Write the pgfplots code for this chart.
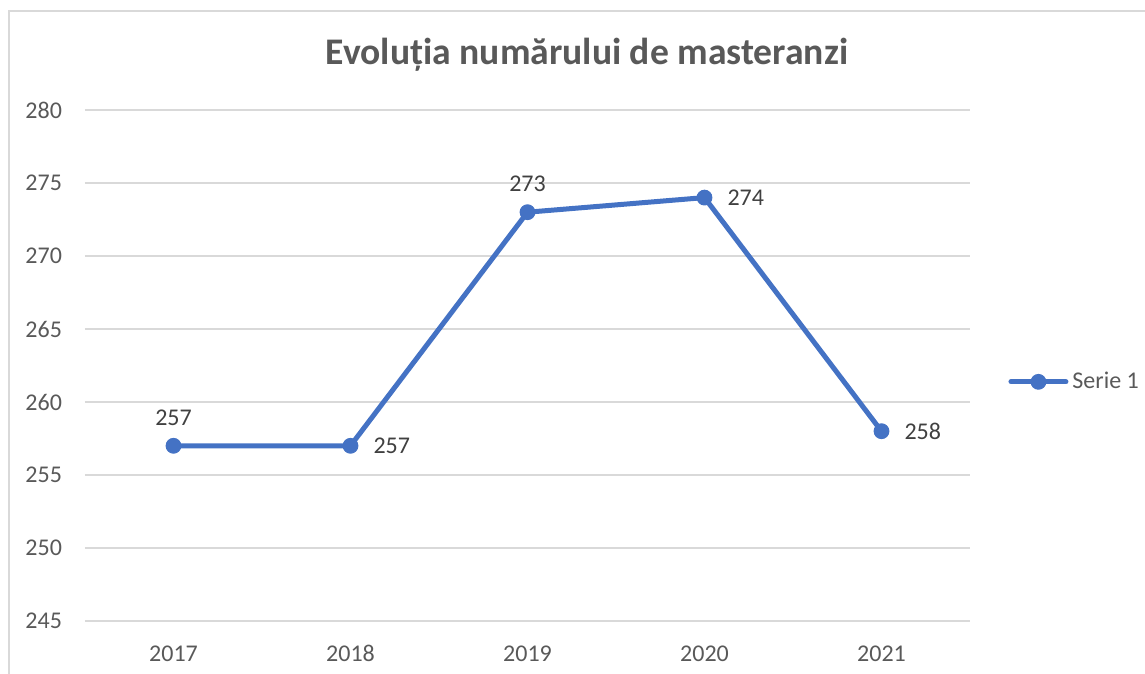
\documentclass[border=0pt]{standalone}
\usepackage{fontspec}
\setmainfont{Carlito}
\usepackage{pgfplots}
\pgfplotsset{compat=1.18}
\definecolor{blu}{HTML}{4472C4}
\definecolor{gridc}{HTML}{D9D9D9}
\definecolor{txt}{HTML}{595959}
\definecolor{lab}{HTML}{404040}
\begin{document}
\begin{tikzpicture}
\begin{axis}[
  at={(0,0)}, anchor=south west,
  scale only axis, width=442.5pt, height=255.5pt,
  xmin=-0.5, xmax=4.5, ymin=245, ymax=280,
  xtick={0,1,2,3,4}, xticklabels={2017,2018,2019,2020,2021},
  ytick={245,250,...,280},
  axis line style={draw=none},
  major tick length=0pt,
  ymajorgrids, grid style={gridc, line width=0.75pt},
  tick label style={font=\fontsize{12}{14}\selectfont, text=txt},
  /pgf/number format/assume math mode=true,
  xticklabel style={anchor=base, yshift=-20pt},
  yticklabel style={anchor=east, xshift=-8pt},
  clip=false,
  legend style={at={(1.043,0.468)}, anchor=west, draw=none, fill=none,
    font=\fontsize{12}{14}\selectfont, text=txt, inner sep=0pt},
  legend image code/.code={\draw[mark repeat=2, mark phase=2] plot coordinates {(0pt,0pt) (13.75pt,0pt) (27.5pt,0pt)};},
]
\addplot[blu, line width=2.5pt, line cap=round, line join=round, mark=*, mark size=3.7pt,
  mark options={solid, fill=blu, draw=blu, line width=0.5pt}]
  coordinates {(0,257) (1,257) (2,273) (3,274) (4,258)};
\addlegendentry{Serie 1}
\addplot[draw=none, mark=none, forget plot, nodes near coords, point meta=explicit symbolic,
  every node near coord/.append style={font=\fontsize{12}{14}\selectfont, text=lab, anchor=center, yshift=14pt}]
  coordinates {(0,257) [257] (2,273) [273]};
\addplot[draw=none, mark=none, forget plot, nodes near coords, point meta=explicit symbolic,
  every node near coord/.append style={font=\fontsize{12}{14}\selectfont, text=lab, anchor=west, xshift=8pt, yshift=0pt}]
  coordinates {(1,257) [257] (3,274) [274] (4,258) [258]};
\end{axis}
\node[font=\bfseries\fontsize{18.8}{22}\selectfont, text=txt] at (251pt,283pt) {Evoluția numărului de masteranzi};
\draw[gridc, line width=0.75pt] (-38pt,-26.5pt) -- (-38pt,305pt) -- (530pt,305pt);
\pgfresetboundingbox
\useasboundingbox (-42.5pt,-26.5pt) rectangle (530pt,310.5pt);
\end{tikzpicture}
\end{document}
